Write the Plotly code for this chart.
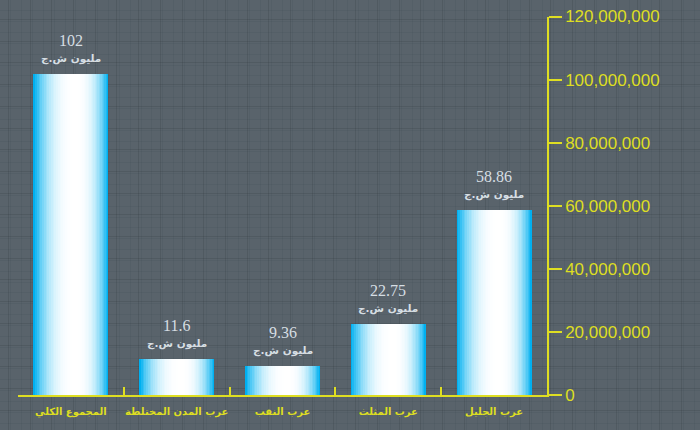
import plotly.graph_objects as go

categories = ["المجموع الكلي", "عرب المدن المختلطة", "عرب النقب", "عرب المثلث", "عرب الجليل"]
values = [102_000_000, 11_600_000, 9_360_000, 22_750_000, 58_860_000]
value_labels = ["102", "11.6", "9.36", "22.75", "58.86"]
unit_label = "مليون ش.ج"
y_ticks = [0, 20_000_000, 40_000_000, 60_000_000, 80_000_000, 100_000_000, 120_000_000]

YELLOW = "#dede22"
BG = "#59636b"
TEXT = "#d6dee3"

fig = go.Figure()

# background grid holder trace (invisible) on x / y
fig.add_trace(go.Scatter(x=[None], y=[None], xaxis="x", yaxis="y", showlegend=False, hoverinfo="skip"))

# gradient bars: nested overlay layers
N = 24
W = 0.71
a = 0.56
cyan = (0, 176, 240)
white = (255, 255, 255)
for k in range(N):
    frac = 1 - k / N
    t = frac ** 2.8
    col = tuple(int(round(white[j] * (1 - t) + cyan[j] * t)) for j in range(3))
    w = W * frac
    off = -W / 2 + (W - w) * a
    fig.add_trace(go.Bar(
        x=categories, y=values, width=w, offset=off,
        marker=dict(color="rgb(%d,%d,%d)" % col, line=dict(width=0)),
        xaxis="x2", yaxis="y2", showlegend=False, hoverinfo="skip",
    ))

annotations = []
for c, v, lab in zip(categories, values, value_labels):
    annotations.append(dict(x=c, y=v, xref="x2", yref="y2", text=lab, showarrow=False,
                            yanchor="middle", yshift=33,
                            font=dict(family="Liberation Serif", size=16, color=TEXT)))
    annotations.append(dict(x=c, y=v, xref="x2", yref="y2", text=unit_label, showarrow=False,
                            yanchor="middle", yshift=15,
                            font=dict(family="DejaVu Sans", size=10.5, color=TEXT, weight="bold")))

grid_major = "rgba(35,45,52,0.16)"
grid_minor = "rgba(35,45,52,0.07)"

fig.update_layout(
    width=700, height=430, autosize=False,
    margin=dict(l=0, r=0, t=0, b=0, autoexpand=False),
    paper_bgcolor=BG, plot_bgcolor="rgba(0,0,0,0)",
    barmode="overlay", bargap=0,
    showlegend=False,
    annotations=annotations,
    xaxis=dict(domain=[0, 1], range=[0, 700], showticklabels=False, ticks="",
               showgrid=True, gridcolor=grid_major, gridwidth=1, automargin=False,
               dtick=21.7, tick0=8.4, zeroline=False, showline=False,
               minor=dict(dtick=10.85, showgrid=True, gridcolor=grid_minor, gridwidth=1),
               fixedrange=True),
    yaxis=dict(domain=[0, 1], range=[430, 0], showticklabels=False, ticks="",
               showgrid=True, gridcolor=grid_major, gridwidth=1, automargin=False,
               dtick=21.7, tick0=19.5, zeroline=False, showline=False,
               minor=dict(dtick=10.85, showgrid=True, gridcolor=grid_minor, gridwidth=1),
               fixedrange=True),
    xaxis2=dict(domain=[18 / 700, 547 / 700], anchor="y2", type="category",
                range=[-0.5, 4.5], showgrid=False, zeroline=False, automargin=False,
                showline=True, linecolor=YELLOW, linewidth=1.5,
                ticks="inside", tickson="boundaries", ticklen=8, tickcolor=YELLOW, tickwidth=1.5,
                ticklabelstandoff=6, tickangle=0,
                tickfont=dict(family="DejaVu Sans", size=10, color=YELLOW, weight="bold")),
    yaxis2=dict(domain=[35 / 430, (430 - 16.5) / 430], anchor="x2", side="right",
                range=[0, 120_000_000], tickvals=y_ticks, tickformat=",d",
                showgrid=False, zeroline=False, automargin=False,
                showline=True, linecolor=YELLOW, linewidth=1.5,
                ticks="outside", ticklen=13, tickcolor=YELLOW, tickwidth=1.5,
                tickfont=dict(family="Liberation Sans", size=17, color=YELLOW)),
)

fig.write_html("out.html")
